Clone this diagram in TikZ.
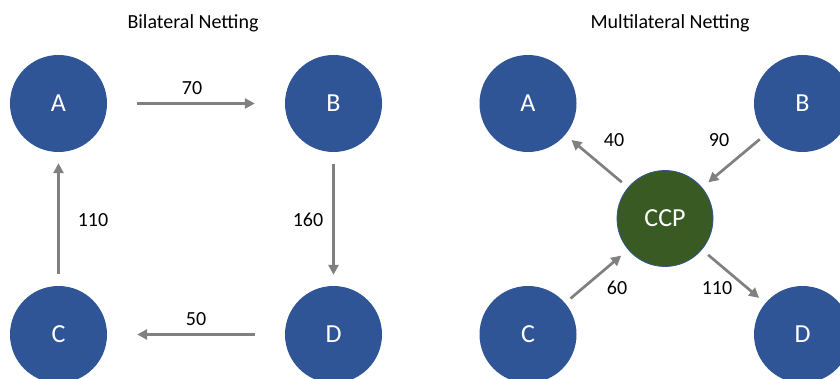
\documentclass[tikz,border=0pt]{standalone}
\usepackage{fontspec}
\setmainfont{Carlito}
\usetikzlibrary{arrows.meta}
\definecolor{nodeblue}{HTML}{2F5597}
\definecolor{ccpgreen}{HTML}{3A5A24}
\definecolor{arrowgray}{HTML}{808080}
\begin{document}
\begin{tikzpicture}[x=1pt,y=-1pt,
  party/.style={circle,fill=nodeblue,draw=none,minimum size=97pt,inner sep=0pt,text=white,font=\fontsize{26}{30}\selectfont},
  ccp/.style={circle,fill=ccpgreen,draw=nodeblue,line width=0.8pt,minimum size=96pt,inner sep=0pt,text=white,font=\fontsize{26}{30}\selectfont},
  flow/.style={draw=arrowgray,line width=2.7pt,-{Triangle[length=10pt,width=10pt]}},
  amount/.style={inner sep=0pt,font=\fontsize{20}{24}\selectfont},
  heading/.style={inner sep=0pt,font=\fontsize{20}{24}\selectfont,anchor=base}]
\useasboundingbox (0,0) rectangle (840,379);
\clip (0,0) rectangle (840,379);
\fill[white] (0,0) rectangle (840,379);
% titles
\node[heading] (t1) at (193,29) {Bilateral Netting};
\node[heading] (t2) at (670,29) {Multilateral Netting};
% bilateral
\node[party] (A1) at (58.5,103.5) {A};
\node[party] (B1) at (333.5,103.5) {B};
\node[party] (C1) at (58.5,334.5) {C};
\node[party] (D1) at (333.5,334.5) {D};
\draw[flow,shorten <=30pt,shorten >=30pt] (A1) -- (B1);
\draw[flow,shorten <=12pt,shorten >=11pt] (B1) -- (D1);
\draw[flow,shorten <=30pt,shorten >=30pt] (D1) -- (C1);
\draw[flow,shorten <=12pt,shorten >=11pt] (C1) -- (A1);
\node[amount] (l70) at (192,88) {70};
\node[amount] (l160) at (308,220) {160};
\node[amount] (l50) at (196,319) {50};
\node[amount] (l110a) at (93,220) {110};
% multilateral
\node[party] (A2) at (528,103.5) {A};
\node[party] (B2) at (802.5,103.5) {B};
\node[party] (C2) at (528,334.5) {C};
\node[party] (D2) at (802.5,334.5) {D};
\node[ccp] (X) at (665,218.5) {CCP};
\draw[flow,shorten <=8pt,shorten >=8pt] (X) -- (A2);
\draw[flow,shorten <=7pt,shorten >=8pt] (B2) -- (X);
\draw[flow,shorten <=7pt,shorten >=9pt] (C2) -- (X);
\draw[flow,shorten <=8pt,shorten >=8pt] (X) -- (D2);
\node[amount] (l40) at (614,140) {40};
\node[amount] (l90) at (719,140) {90};
\node[amount] (l60) at (617,288) {60};
\node[amount] (l110b) at (717,288) {110};
\end{tikzpicture}
\end{document}
